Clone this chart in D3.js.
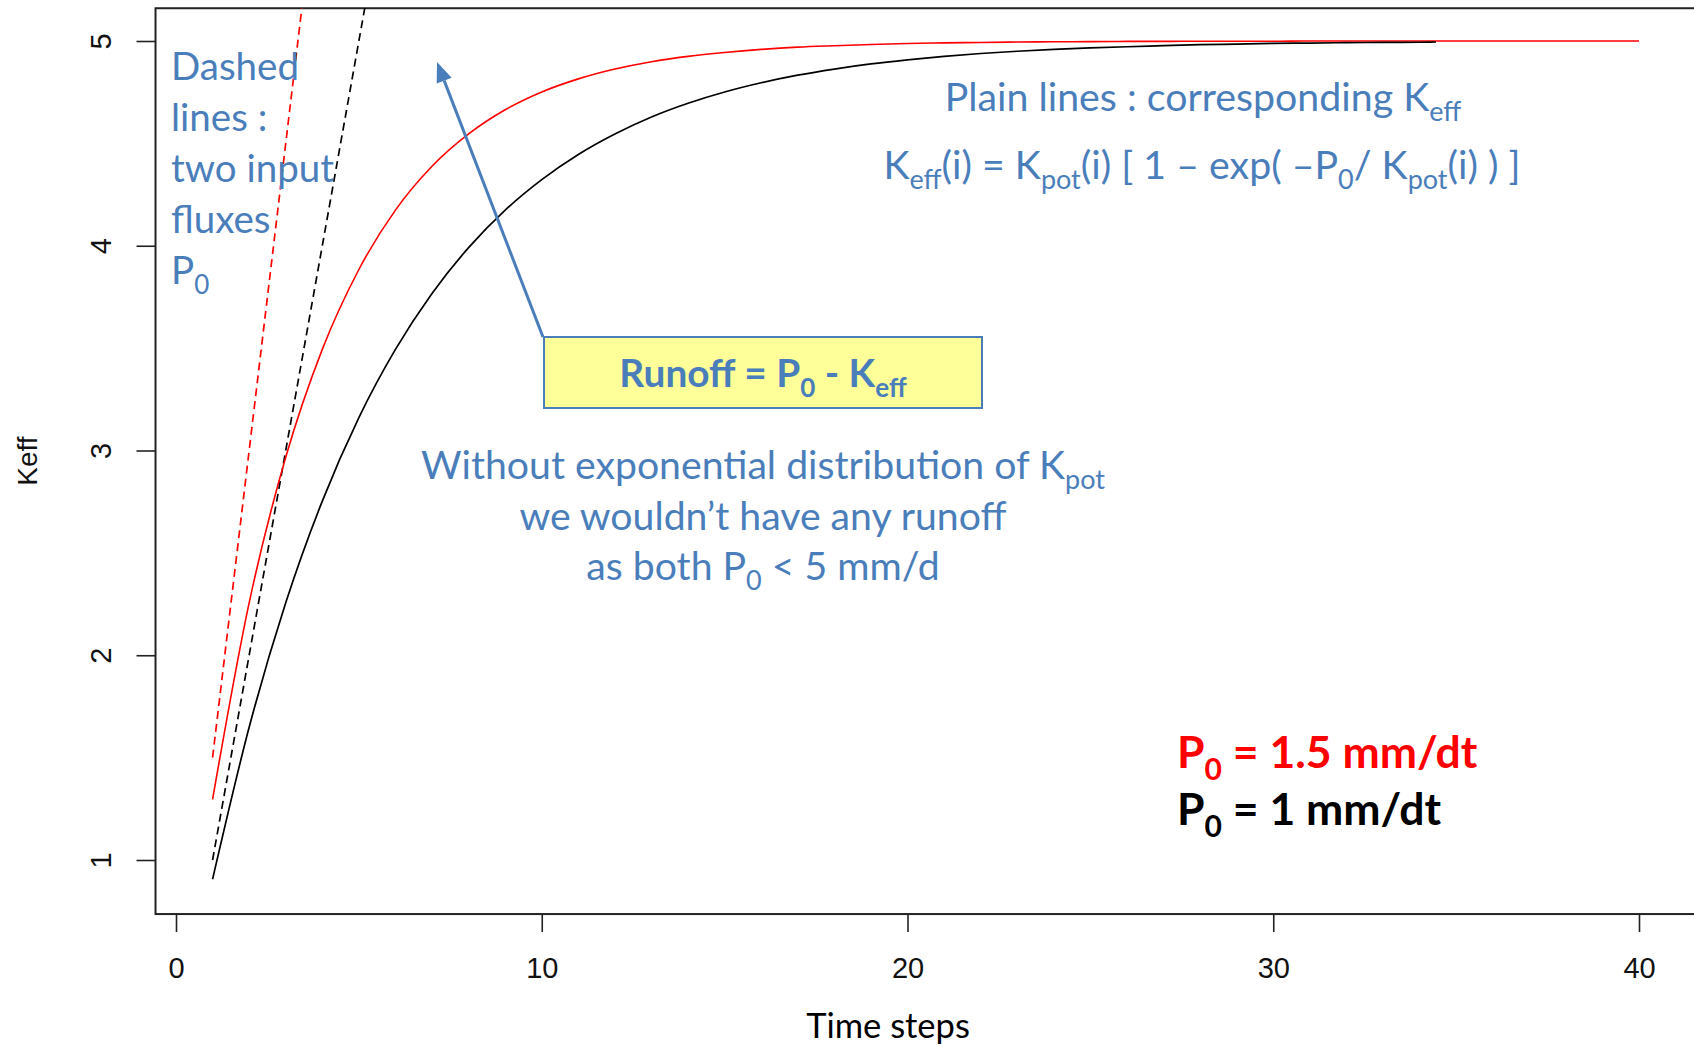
<!DOCTYPE html>
<html><head><meta charset="utf-8">
<script src="https://cdn.jsdelivr.net/npm/d3@7"></script>
<style>html,body{margin:0;padding:0;background:#fff;} svg{display:block}</style>
</head><body>
<svg id="chart" width="1694" height="1047"></svg>
<script>
// ---------- data ----------
const timeStepsP15 = [1,2,3,4,5,6,7,8,9,10,11,12,13,14,15,16,17,18,19,20,21,22,23,24,25,26,27,28,29,30,31,32,33,34,35,36,37,38,39,40];
const keffP15 = [1.296,2.256,2.967,3.494,3.884,4.174,4.388,4.546,4.664,4.751,4.815,4.863,4.899,4.925,4.944,4.959,4.970,4.977,4.983,4.988,4.991,4.993,4.995,4.996,4.997,4.998,4.998,4.999,4.999,4.999,5.0,5.0,5.0,5.0,5.0,5.0,5.0,5.0,5.0,5.0];
const timeStepsP1 = [1,2,3,4,5,6,7,8,9,10,11,12,13,14,15,16,17,18,19,20,21,22,23,24,25,26,27,28,29,30,31,32,33,34,34.45];
const keffP1 = [0.906,1.648,2.256,2.753,3.161,3.494,3.767,3.991,4.174,4.323,4.446,4.546,4.629,4.696,4.751,4.796,4.833,4.863,4.888,4.908,4.925,4.939,4.950,4.959,4.966,4.972,4.977,4.982,4.985,4.988,4.990,4.992,4.993,4.994,4.995];
const inputTimesP15 = [1,2,3,4];
const inputP15 = [1.5,3.0,4.5,6.0];
const inputTimesP1 = [1,2,3,4,5,6];
const inputP1 = [1,2,3,4,5,6];
const xTicks = [0,10,20,30,40];
const yTicks = [1,2,3,4,5];
const xTitle = "Time steps";
const yTitle = "Keff";
const noteDashed = ["Dashed","lines :","two input","fluxes","P_{0}"];
const notePlain = ["Plain lines : corresponding K_{eff}","K_{eff}(i) = K_{pot}(i) [ 1 – exp( –P_{0}/ K_{pot}(i) ) ]"];
const noteRunoff = "Runoff = P_{0} - K_{eff}";
const noteWithout = ["Without exponential distribution of K_{pot}","we wouldn’t have any runoff","as both P_{0} < 5 mm/d"];
const legendLabels = ["P_{0} = 1.5 mm/dt","P_{0} = 1 mm/dt"];
const seriesColors = ["#ff0000","#000000"];

// ---------- layout ----------
const svg = d3.select("#chart");
const x = d3.scaleLinear().domain([0,40]).range([176,1639]);
const y = d3.scaleLinear().domain([1,5]).range([860,41]);
const usrX = [-0.56, 41.56], usrY = [0.736, 5.16];
const pL = x(usrX[0]), pR = x(usrX[1]), pT = y(usrY[1]), pB = y(usrY[0]);
const blue = "#4a7ebb";
const calibri = "Lato, 'Open Sans', sans-serif";
const arial = "'Liberation Sans', Arial, sans-serif";

svg.append("defs").append("clipPath").attr("id","plotclip")
  .append("rect").attr("x",pL).attr("y",pT).attr("width",pR-pL).attr("height",pB-pT);

// axes
const xAxis = svg.append("g").attr("transform",`translate(0,${pB})`)
  .call(d3.axisBottom(x).tickValues(xTicks).tickSize(18).tickSizeOuter(0).tickPadding(25).tickFormat(d3.format("d")));
xAxis.select(".domain").remove();
xAxis.selectAll("line").attr("stroke","#222").attr("stroke-width",1.6);
xAxis.selectAll("text").attr("font-family",arial).attr("font-size",29).attr("fill","#111");

const yAxis = svg.append("g").attr("transform",`translate(${pL},0)`)
  .call(d3.axisLeft(y).tickValues(yTicks).tickSize(19).tickSizeOuter(0).tickFormat(d3.format("d")));
yAxis.select(".domain").remove();
yAxis.selectAll("line").attr("stroke","#222").attr("stroke-width",1.6);
yAxis.selectAll("text").attr("x",null).attr("dy",null)
  .attr("transform","translate(-45,0) rotate(-90)")
  .attr("text-anchor","middle")
  .attr("font-family",arial).attr("font-size",29).attr("fill","#111");

// box
svg.append("rect").attr("x",pL).attr("y",pT).attr("width",pR-pL).attr("height",pB-pT)
  .attr("fill","none").attr("stroke","#222").attr("stroke-width",2);

// axis titles
svg.append("text").attr("transform","translate(37,461) rotate(-90)").attr("text-anchor","middle")
  .attr("font-family",arial).attr("font-size",28).attr("fill","#111").text(yTitle);
svg.append("text").attr("x",888).attr("y",1038).attr("text-anchor","middle")
  .attr("font-family",calibri).attr("font-size",34.5).attr("fill","#000").text(xTitle);

// lines
const plot = svg.append("g").attr("clip-path","url(#plotclip)");
const line = d3.line().x(d=>x(d[0])).y(d=>y(d[1]));
const smooth = d3.line().x(d=>x(d[0])).y(d=>y(d[1])).curve(d3.curveMonotoneX);
plot.append("path").datum(d3.zip(inputTimesP15,inputP15)).attr("d",line)
  .attr("fill","none").attr("stroke",seriesColors[0]).attr("stroke-width",1.7).attr("stroke-dasharray","8,5");
plot.append("path").datum(d3.zip(inputTimesP1,inputP1)).attr("d",line)
  .attr("fill","none").attr("stroke",seriesColors[1]).attr("stroke-width",1.7).attr("stroke-dasharray","8,5");
plot.append("path").datum(d3.zip(timeStepsP15,keffP15)).attr("d",smooth)
  .attr("fill","none").attr("stroke",seriesColors[0]).attr("stroke-width",1.6);
plot.append("path").datum(d3.zip(timeStepsP1,keffP1)).attr("d",smooth)
  .attr("fill","none").attr("stroke",seriesColors[1]).attr("stroke-width",1.7);

// rich text helper: "_{...}" is a subscript
function rich(g, str, px, py, size, opts={}) {
  const t = g.append("text").attr("x",px).attr("y",py)
    .attr("font-family",calibri).attr("font-size",size)
    .attr("fill",opts.fill||blue).attr("font-weight",opts.bold?"bold":"normal")
    .attr("text-anchor",opts.anchor||"start");
  const parts = str.split(/(_\{[^}]*\})/).filter(s=>s.length);
  const shift = Math.round(size*0.26), subSize = Math.round(size*0.68);
  let down = false;
  parts.forEach(p=>{
    if (p.startsWith("_{")) {
      t.append("tspan").attr("font-size",subSize).attr("dy",down?0:shift).text(p.slice(2,-1));
      down = true;
    } else {
      t.append("tspan").attr("dy",down?-shift:0).text(p);
      down = false;
    }
  });
  return t;
}

const notes = svg.append("g");
noteDashed.forEach((s,i)=>rich(notes,s,171,80+i*51,38.5));
rich(notes,notePlain[0],1203,111,39.3,{anchor:"middle"});
rich(notes,notePlain[1],1202,179,39.3,{anchor:"middle"});
noteWithout.forEach((s,i)=>rich(notes,s,763,479+i*50.5,39.2,{anchor:"middle"}));

// arrow
const ax0=543, ay0=337, ax1=437, ay1=62;
const ang = Math.atan2(ay1-ay0, ax1-ax0), hl=20, hw=8;
const bx = ax1 - hl*Math.cos(ang), by = ay1 - hl*Math.sin(ang);
notes.append("line").attr("x1",ax0).attr("y1",ay0).attr("x2",bx).attr("y2",by)
  .attr("stroke",blue).attr("stroke-width",3);
notes.append("path").attr("d",`M${ax1},${ay1}L${bx+hw*Math.sin(ang)},${by-hw*Math.cos(ang)}L${bx-hw*Math.sin(ang)},${by+hw*Math.cos(ang)}Z`)
  .attr("fill",blue);

// runoff box
notes.append("rect").attr("x",544).attr("y",337).attr("width",438).attr("height",71)
  .attr("fill","#ffff9a").attr("stroke",blue).attr("stroke-width",2);
rich(notes,noteRunoff,763,387,38.8,{anchor:"middle",bold:true});

// legend
legendLabels.forEach((s,i)=>rich(notes,s,1177,768+i*57,44.5,{bold:true,fill:seriesColors[i]}));
</script>
</body></html>
